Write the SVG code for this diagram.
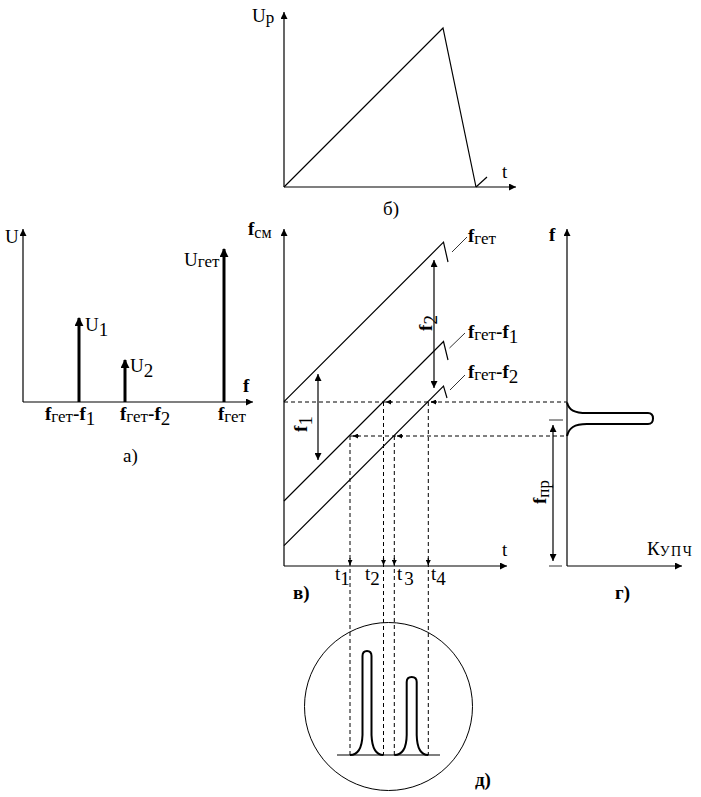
<svg xmlns="http://www.w3.org/2000/svg" width="701" height="797" viewBox="0 0 701 797" font-family="Liberation Serif, Times New Roman, serif" font-size="19">
<style>
text{font-family:"Liberation Serif","Times New Roman",serif;font-size:19px;fill:#000}
.b{font-weight:bold}
.sc{font-size:17px}
.ax{stroke:#000;stroke-width:1.2;fill:none}
.ln{stroke:#000;stroke-width:1.2;fill:none}
.thin{stroke:#000;stroke-width:0.8;fill:none}
.dash{stroke:#000;stroke-width:1;fill:none;stroke-dasharray:4 3}
.thick{stroke:#000;stroke-width:3;fill:none}
.crv{stroke:#000;stroke-width:2;fill:none}
</style>
<defs>
<marker id="ah" viewBox="0 0 10 10" refX="10" refY="5" markerWidth="8" markerHeight="7" markerUnits="userSpaceOnUse" orient="auto-start-reverse">
<path d="M0,0 L10,5 L0,10 Z" fill="#000"/>
</marker>
<marker id="ahb" viewBox="0 0 10 10" refX="9" refY="5" markerWidth="9" markerHeight="9" markerUnits="userSpaceOnUse" orient="auto">
<path d="M0,0 L10,5 L0,10 Z" fill="#000"/>
</marker>
<marker id="ahs" viewBox="0 0 10 10" refX="10" refY="5" markerWidth="6" markerHeight="5" markerUnits="userSpaceOnUse" orient="auto">
<path d="M0,0 L10,5 L0,10 Z" fill="#000"/>
</marker>
</defs>

<!-- б) -->
<g id="chart-b">
<line class="ax" x1="284" y1="187" x2="284" y2="12" marker-end="url(#ah)"/>
<line class="ax" x1="284" y1="187" x2="516" y2="187" marker-end="url(#ah)"/>
<polyline class="ln" points="284,187 443,28 476,187"/>
<line class="ln" x1="476" y1="187" x2="487" y2="177"/>
<text x="252" y="22">U<tspan class="sc" dy="1">р</tspan></text>
<text x="502" y="178">t</text>
<text x="383" y="215">б)</text>
</g>

<!-- а) -->
<g id="chart-a">
<line class="ax" x1="23" y1="402" x2="23" y2="229" marker-end="url(#ah)"/>
<line class="ax" x1="23" y1="402" x2="253" y2="402" marker-end="url(#ah)"/>
<line class="thick" x1="79" y1="402" x2="79" y2="318" marker-end="url(#ahb)"/>
<line class="thick" x1="125" y1="402" x2="125" y2="360" marker-end="url(#ahb)"/>
<line class="thick" x1="224" y1="402" x2="224" y2="249" marker-end="url(#ahb)"/>
<text x="5" y="243">U</text>
<text x="243" y="392" class="b">f</text>
<text x="85" y="331">U<tspan dy="5">1</tspan></text>
<text x="130" y="372">U<tspan dy="5">2</tspan></text>
<text x="184" y="266">U<tspan class="sc" dy="1">гет</tspan></text>
<text x="45" y="420"><tspan class="b">f</tspan><tspan class="sc" dy="2">гет</tspan><tspan class="b" dy="-2">-f</tspan><tspan dy="5">1</tspan></text>
<text x="120" y="420"><tspan class="b">f</tspan><tspan class="sc" dy="2">гет</tspan><tspan class="b" dy="-2">-f</tspan><tspan dy="5">2</tspan></text>
<text x="218" y="420"><tspan class="b">f</tspan><tspan class="sc" dy="2">гет</tspan></text>
<text x="123" y="462">а)</text>
</g>

<!-- в) -->
<g id="chart-v">
<line class="ax" x1="284" y1="566" x2="284" y2="229" marker-end="url(#ah)"/>
<line class="ax" x1="284" y1="566" x2="507" y2="566" marker-end="url(#ah)"/>
<polyline class="ln" points="284,401.7 443.5,242.2 448,262"/>
<polyline class="ln" points="284,501 443.5,341.5 448,360"/>
<polyline class="ln" points="284,545.7 443.5,386.2 447,398"/>
<line class="thin" x1="452" y1="252" x2="467" y2="237"/>
<line class="thin" x1="449.5" y1="348" x2="465" y2="333"/>
<line class="thin" x1="450" y1="390" x2="465" y2="375"/>
<line class="ln" x1="434" y1="260" x2="434" y2="388" marker-start="url(#ah)" marker-end="url(#ah)"/>
<line class="ln" x1="318" y1="374" x2="318" y2="460" marker-start="url(#ah)" marker-end="url(#ah)"/>
<text x="248" y="235" class="b">f<tspan font-size="16" font-weight="normal" dy="3">см</tspan></text>
<text x="502" y="556">t</text>
<text x="468" y="242"><tspan class="b">f</tspan><tspan class="sc" dy="2">гет</tspan></text>
<text x="468" y="338"><tspan class="b">f</tspan><tspan class="sc" dy="2">гет</tspan><tspan class="b" dy="-2">-f</tspan><tspan dy="5">1</tspan></text>
<text x="468" y="378"><tspan class="b">f</tspan><tspan class="sc" dy="2">гет</tspan><tspan class="b" dy="-2">-f</tspan><tspan dy="5">2</tspan></text>
<text transform="translate(432,323) rotate(-90)" text-anchor="middle"><tspan class="b">f</tspan><tspan dy="5">2</tspan></text>
<text transform="translate(307,424) rotate(-90)" text-anchor="middle"><tspan class="b">f</tspan><tspan dy="5">1</tspan></text>
<text x="335" y="580">t<tspan dy="5">1</tspan></text>
<text x="365" y="580">t<tspan dy="5">2</tspan></text>
<text x="397" y="580">t<tspan dx="2" dy="5">3</tspan></text>
<text x="431" y="580">t<tspan dy="5">4</tspan></text>
<text x="293" y="599" class="b">в)</text>
</g>

<!-- г) -->
<g id="chart-g">
<line class="ax" x1="567" y1="566" x2="567" y2="229" marker-end="url(#ah)"/>
<line class="ax" x1="567" y1="566" x2="682" y2="566" marker-end="url(#ah)"/>
<path class="crv" d="M567,402.5 C569,410 574,413 587,413 L648,413 Q653,413 653,418.5 Q653,424 648,424 L587,424 C574,424 569,428 567,436"/>
<line class="ln" x1="553" y1="425" x2="553" y2="561" marker-start="url(#ah)" marker-end="url(#ah)"/>
<line class="thin" x1="549" y1="420" x2="563" y2="420"/>
<line class="thin" x1="549" y1="566" x2="562" y2="566"/>
<text x="549" y="241" class="b">f</text>
<text x="647" y="555">К<tspan font-size="14" letter-spacing="1.5" dy="1">УПЧ</tspan></text>
<text transform="translate(546,492) rotate(-90)" text-anchor="middle"><tspan class="b">f</tspan><tspan class="sc" dy="3">пр</tspan></text>
<text x="615" y="599" class="b">г)</text>
</g>

<!-- д) -->
<g id="chart-d">
<circle cx="388.5" cy="706.5" r="84" fill="none" stroke="#000" stroke-width="1"/>
<line class="ln" x1="337" y1="755" x2="440" y2="755"/>
<path class="crv" d="M350,755 C358,755 362,748 362.5,735 L362.5,656 Q362.5,651 367,651 Q371.5,651 371.5,656 L371.5,735 C372,748 376,755 383.5,755"/>
<path class="crv" d="M394.3,755 C402,755 406.5,748 406.7,735 L406.7,682 Q406.7,677 411.7,677 Q416.7,677 416.7,682 L416.7,735 C417,748 421,755 428.3,755"/>
<text x="475" y="786" class="b">д)</text>
</g>

<!-- connectors: dashed projection lines -->
<g id="connectors">
<line class="dash" x1="284" y1="402" x2="567" y2="402"/>
<line class="dash" x1="350" y1="436" x2="567" y2="436"/>
<line class="ln" x1="392" y1="402" x2="386" y2="402" marker-end="url(#ahs)" stroke-width="0.8"/>
<line class="ln" x1="437" y1="402" x2="431" y2="402" marker-end="url(#ahs)" stroke-width="0.8"/>
<line class="ln" x1="359" y1="436" x2="353" y2="436" marker-end="url(#ahs)" stroke-width="0.8"/>
<line class="ln" x1="403" y1="436" x2="397" y2="436" marker-end="url(#ahs)" stroke-width="0.8"/>
<line class="dash" x1="350" y1="436" x2="350" y2="755"/>
<line class="dash" x1="383.5" y1="402" x2="383.5" y2="755"/>
<line class="dash" x1="394.3" y1="436" x2="394.3" y2="755"/>
<line class="dash" x1="428.3" y1="402" x2="428.3" y2="755"/>
<line class="ln" x1="350" y1="558" x2="350" y2="565" marker-end="url(#ahs)" stroke-width="0.8"/>
<line class="ln" x1="383.5" y1="558" x2="383.5" y2="565" marker-end="url(#ahs)" stroke-width="0.8"/>
<line class="ln" x1="394.3" y1="558" x2="394.3" y2="565" marker-end="url(#ahs)" stroke-width="0.8"/>
<line class="ln" x1="428.3" y1="558" x2="428.3" y2="565" marker-end="url(#ahs)" stroke-width="0.8"/>
</g>
</svg>
